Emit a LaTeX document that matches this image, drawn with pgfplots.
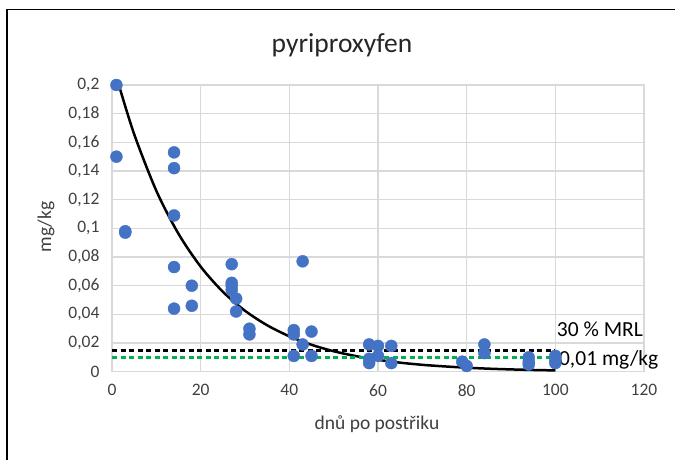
\documentclass[border=0pt]{standalone}
\usepackage{fontspec}
\setmainfont{Carlito}
\usepackage{pgfplots}
\pgfplotsset{compat=1.18}
\definecolor{ptblue}{HTML}{4472C4}
\definecolor{gridgray}{HTML}{D9D9D9}
\definecolor{txt}{HTML}{404040}
\definecolor{mrlgreen}{HTML}{00B050}
\begin{document}
\begin{tikzpicture}[x=1pt,y=1pt]
\begin{axis}[
  at={(112pt,-371.7pt)}, anchor=south west,
  scale only axis, width=532pt, height=286.7pt,
  xmin=0, xmax=120, ymin=0, ymax=0.2,
  xtick={0,20,40,60,80,100,120},
  ytick={0,0.02,0.04,0.06,0.08,0.1,0.12,0.14,0.16,0.18,0.2},
  scaled y ticks=false,
  grid=major, grid style={gridgray, line width=1.2pt},
  axis line style={gridgray, line width=1.2pt},
  major tick length=0pt,
  /pgf/number format/assume math mode=true,
  ticklabel style={font=\fontsize{17.5}{20}\selectfont, text=txt},
  xticklabel style={yshift=-9pt},
  yticklabel style={xshift=-9pt, /pgf/number format/fixed,
    /pgf/number format/precision=2, /pgf/number format/use comma},
  clip=false,
]
% measured residues
\addplot[only marks, mark=*, mark size=6pt, draw=ptblue, fill=ptblue] coordinates {
 (1,0.200) (1,0.150) (3,0.098) (3,0.097)
 (14,0.153) (14,0.142) (14,0.109) (14,0.073) (14,0.044)
 (18,0.060) (18,0.046)
 (27,0.075) (27,0.062) (27,0.060) (27,0.057) (28,0.051) (28,0.042)
 (31,0.030) (31,0.026)
 (41,0.029) (41,0.026) (41,0.011) (43,0.077) (43,0.019) (45,0.028) (45,0.011)
 (58,0.019) (58,0.009) (58,0.006) (60,0.018) (60,0.011) (63,0.018) (63,0.006)
 (79,0.007) (80,0.004) (84,0.019) (84,0.013)
 (94,0.010) (94,0.007) (94,0.005) (100,0.011) (100,0.008) (100,0.006)
};
% trend line
\addplot[black, line width=2.5pt, smooth] coordinates {
 (1.5,0.2005) (5,0.1657) (10,0.1262) (15,0.0962) (20,0.0733) (25,0.0558)
 (30,0.0425) (35,0.0324) (40,0.0247) (45,0.0188) (50,0.0143) (55,0.0109)
 (60,0.0083) (65,0.0063) (70,0.0048) (75,0.0037) (80,0.0028) (85,0.0021)
 (90,0.0016) (95,0.0012) (100,0.0009)
};
% limits
\addplot[black, line width=2.6pt, dash pattern=on 5pt off 3.5pt] coordinates {(0,0.015) (100,0.015)};
\addplot[mrlgreen, line width=2.6pt, dash pattern=on 5pt off 3.5pt] coordinates {(0,0.01) (100,0.01)};
\node[anchor=west, inner sep=0pt, font=\fontsize{21.5}{24}\selectfont] at (axis cs:100.3,0.0297) {30 \% MRL};
\node[anchor=west, inner sep=0pt, font=\fontsize{21.5}{24}\selectfont] at (axis cs:100.8,0.0082) {0,01 mg/kg};
\end{axis}
\node[anchor=base, font=\fontsize{27.5}{30}\selectfont, text=black!85] at (342,-53) {pyriproxyfen};
\node[anchor=base, font=\fontsize{19.5}{22}\selectfont, text=txt] at (377,-429) {dnů po postřiku};
\node[rotate=90, font=\fontsize{19.5}{22}\selectfont, text=txt] at (46,-227) {mg/kg};
\draw[line width=1.8pt, black] (7,-470) -- (7,-9.5) -- (690,-9.5);
\pgfresetboundingbox
\useasboundingbox (0,0) rectangle (675,-460);
\end{tikzpicture}
\end{document}
